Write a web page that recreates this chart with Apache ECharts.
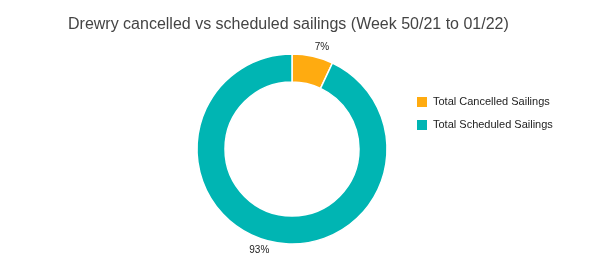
<!DOCTYPE html>
<html><head><meta charset="utf-8">
<script src="https://cdn.jsdelivr.net/npm/echarts@6/dist/echarts.min.js"></script>
<style>html,body{margin:0;padding:0;background:#fff}#c{width:597px;height:267px}</style>
</head><body><div id="c"></div>
<script>
const categories = ['Total Cancelled Sailings', 'Total Scheduled Sailings'];
const values = [7, 93];
const colors = ['#ffab10', '#00b5b3'];
const titleText = 'Drewry cancelled vs scheduled sailings (Week 50/21 to 01/22)';

const chart = echarts.init(document.getElementById('c'), null, {renderer: 'canvas'});
chart.setOption({
  animation: false,
  title: {
    text: titleText, left: 63, top: 12,
    textStyle: {fontFamily: 'Liberation Sans, Arial', fontSize: 16, fontWeight: 'normal', color: '#444'}
  },
  legend: {
    orient: 'vertical', left: 410, top: 90, itemWidth: 12, itemHeight: 12, itemGap: 9,
    icon: 'rect',
    textStyle: {fontFamily: 'Liberation Sans, Arial', fontSize: 11, color: '#222'},
    data: categories
  },
  color: colors,
  series: [{
    type: 'pie',
    center: [292, 149],
    radius: [67, 95],
    startAngle: 90,
    clockwise: true,
    itemStyle: {borderColor: '#fff', borderWidth: 1.5},
    label: {
      show: true, position: 'outside', formatter: '{d}%', distanceToLabelLine: 0,
      fontFamily: 'Liberation Sans, Arial', fontSize: 10, color: '#222'
    },
    labelLine: {show: false, length: 9, length2: 0},
    data: categories.map((n, i) => ({name: n, value: values[i]}))
  }]
});
</script></body></html>
